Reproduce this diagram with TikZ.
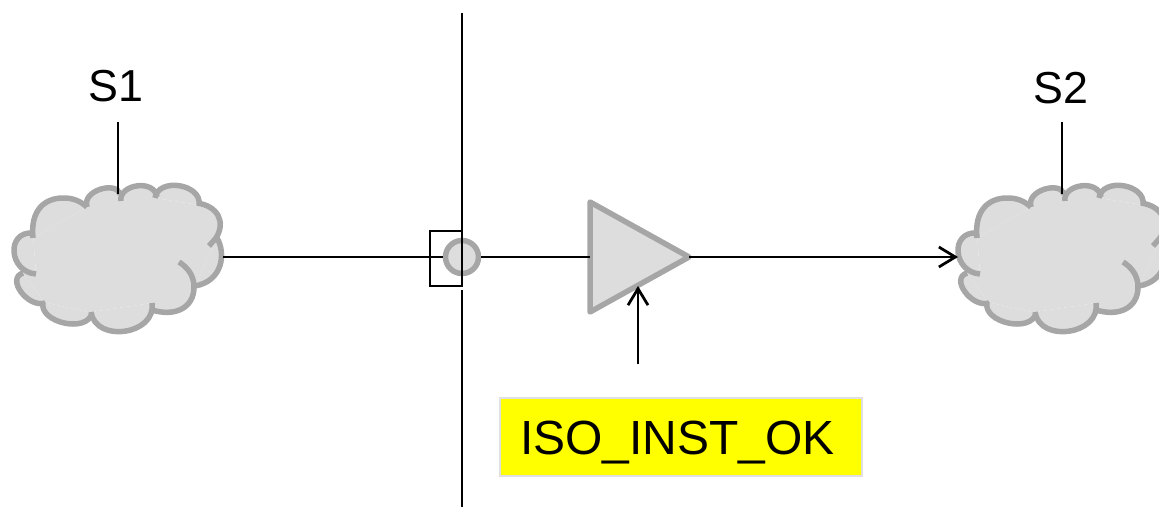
\documentclass[tikz,border=0pt]{standalone}
\usepackage{fontspec}
\setmainfont{Liberation Sans}
\usetikzlibrary{arrows.meta}
\definecolor{cloudgray}{RGB}{166,166,166}
\definecolor{cloudfill}{RGB}{221,221,221}
\definecolor{ctlyellow}{RGB}{255,255,0}
\newcommand{\cloudlobes}{
(33,233) .. controls (5.7,231) and (8.7,272) .. (36,274)
(23,273) .. controls (5.7,278.3) and (27.7,308.3) .. (45,303)
(43,302) .. controls (38.3,322.6) and (87.3,333.6) .. (92,313)
(91,312) .. controls (95.7,343.6) and (156.7,334.6) .. (152,303)
(152,310) .. controls (175,317) and (194,308) .. (194,287) .. controls (194,275) and (187,267) .. (179,262)
(217,238) .. controls (226,253) and (223,281) .. (195,286)
(209,246) -- (216,238) .. controls (226,222) and (218,206) .. (197,203)
(199,205) .. controls (202.3,184) and (158.3,177) .. (155,198)
(157,197) .. controls (154.3,178.5) and (118.3,184.5) .. (121,201)
(120,194) .. controls (116.7,181) and (81.7,190) .. (87,207)
(87,207) .. controls (78,199) and (70,198) .. (63,198) .. controls (45,198) and (30,210) .. (33,238)
}
\tikzset{
wire/.style={line width=0.055cm},
thinwire/.style={line width=0.045cm},
barb/.style={-{Straight Barb[length=0.33cm,width=0.4cm,line width=0.055cm]}},
graybody/.style={draw=cloudgray,fill=cloudfill,line width=0.11cm},
label/.style={font=\fontsize{25.5}{30}\selectfont},
cloudshape/.pic={
\fill [cloudfill] \cloudlobes;
\fill [cloudfill] (33,233) -- (36,274) -- (23,273) -- (45,303) -- (43,302) -- (92,313) -- (91,312) -- (152,303) -- (152,310) -- (194,287) -- (195,286) -- (217,238) -- (216,238) -- (197,203) -- (199,205) -- (155,198) -- (157,195) -- (121,201) -- (120,194) -- (85,203) -- (87,207) -- (33,238) -- cycle;
\draw [cloudgray,line width=0.11cm] \cloudlobes;
\coordinate (-east) at (223,257);
\coordinate (-west) at (14,257);
\coordinate (-north) at (118,194);
}
}
\begin{document}
\begin{tikzpicture}[x=0.02cm,y=-0.02cm]
\useasboundingbox (0,0) rectangle (1159,507);
\pic (s1) at (0,0) {cloudshape};
\pic (s2) at (944,0) {cloudshape};
\node [label] (s1label) at (116,86) {S1};
\node [label] (s2label) at (1061,88) {S2};
\coordinate (s1stem) at (118,122);
\coordinate (s2stem) at (1062,122);
\draw [thinwire] (s1stem) -- (s1-north);
\draw [thinwire] (s2stem) -- (s2-north);
\node [draw,line width=0.04cm,minimum width=0.64cm,minimum height=1.1cm,inner sep=0pt] (isobox) at (446,258.5) {};
\node [circle,graybody,minimum size=0.66cm,inner sep=0pt] (port) at (462,257) {};
\coordinate (walltop) at (462,13);
\coordinate (wallgap) at (462,287);
\coordinate (wallres) at (462,290);
\coordinate (wallbot) at (462,507);
\draw [thinwire] (walltop) -- (wallgap);
\draw [thinwire] (wallres) -- (wallbot);
\coordinate (bufin) at (590,257);
\coordinate (bufout) at (689,257);
\coordinate (bufen) at (638,286);
\draw [graybody,line join=round] (590,202) -- (bufout) -- (590,312) -- cycle;
\draw [wire] (s1-east) -- (port.west);
\draw [wire] (port.east) -- (bufin);
\draw [wire,barb] (bufout) -- (s2-west);
\coordinate (enstart) at (638,364);
\draw [wire,barb] (enstart) -- (bufen);
\node [font=\fontsize{27.3}{30}\selectfont,draw=black!12,fill=ctlyellow,line width=0.04cm,minimum height=1.56cm,text width=6.44cm,text height=0.8cm,text depth=0.12cm,inner xsep=0.4cm,inner ysep=0pt,align=left] (isoctl) at (681,437) {ISO\_INST\_OK};
\end{tikzpicture}
\end{document}
